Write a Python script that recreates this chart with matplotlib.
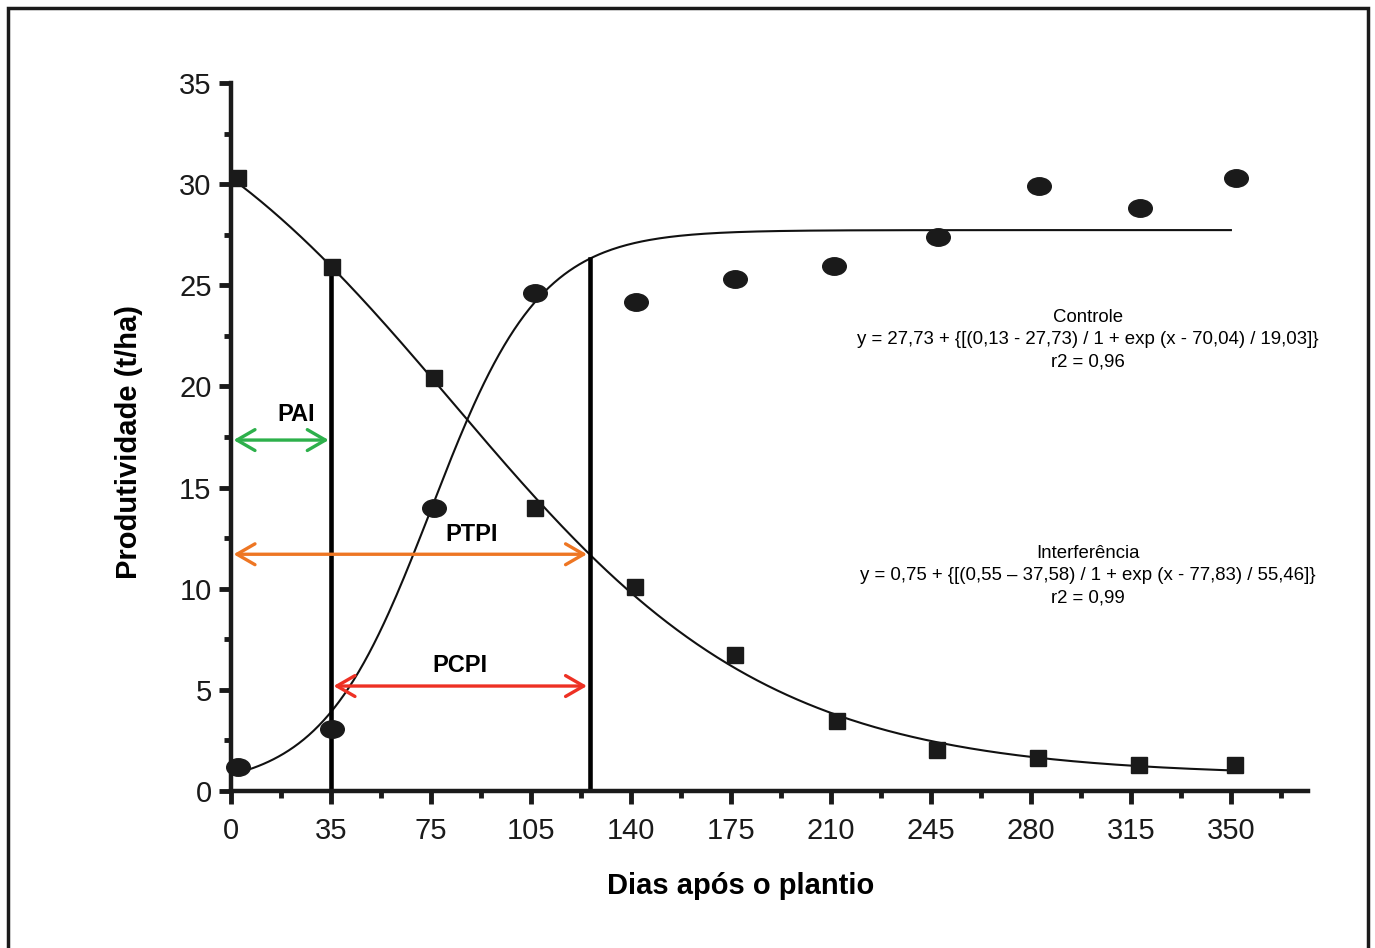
import numpy as np
import matplotlib
matplotlib.use("Agg")
import matplotlib.pyplot as plt
from matplotlib.path import Path
from matplotlib.transforms import Affine2D
from matplotlib.patches import Rectangle

plt.rcParams['font.family'] = ['Liberation Sans', 'DejaVu Sans']

# dados
dias_controle = [2.4, 35.3, 71, 106.4, 141.7, 176.4, 211, 247.4, 282.8, 318.2, 351.8]
prod_controle = [1.19, 3.06, 14.0, 24.6, 24.2, 25.3, 25.95, 27.4, 29.9, 28.8, 30.3]

dias_interf = [2.4, 35.3, 71, 106.4, 141.4, 176.4, 212, 247, 282.5, 317.8, 351.4]
prod_interf = [30.3, 25.9, 20.4, 14.0, 10.1, 6.7, 3.46, 2.03, 1.63, 1.29, 1.29]

# parâmetros dos modelos ajustados (a, b, x0, dx)
par_controle = [27.73, 0.13, 70.04, 19.03]
par_interf = [0.75, 37.58, 77.83, 55.46]

xticks = [0, 35, 70, 105, 140, 175, 210, 245, 280, 315, 350]
xticklabels = ["0", "35", "75", "105", "140", "175", "210", "245", "280", "315", "350"]
yticks = [0, 5, 10, 15, 20, 25, 30, 35]

# limites dos períodos
pai_fim = 35
ptpi_fim = 125.5


def logistica(x, p):
    a, b, x0, dx = p
    return a + (b - a) / (1 + np.exp((x - x0) / dx))


fig = plt.figure(figsize=(13.75, 9.48), dpi=100)
ax = fig.add_axes([0.168, 0.1656, 0.7833, 0.7468])

# moldura
fig.patches.append(Rectangle((8 / 1375, -0.05), 1360 / 1375, 1.05 - 8 / 948,
                             transform=fig.transFigure, fill=False,
                             edgecolor='#1a1a1a', linewidth=2.5))

xs = np.linspace(0, 350, 400)
ax.plot(xs, logistica(xs, par_controle), color='#111111', lw=1.5, clip_on=False)
ax.plot(xs, logistica(xs, par_interf), color='#111111', lw=1.5, clip_on=False)

ellipse = Path.unit_circle().transformed(Affine2D().scale(1.35, 1.0))
ax.plot(dias_controle, prod_controle, linestyle='none', marker=ellipse,
        markersize=17, color='#1a1a1a', clip_on=False, zorder=5)
ax.plot(dias_interf, prod_interf, linestyle='none', marker='s',
        markersize=11, color='#1a1a1a', clip_on=False, zorder=5)

# linhas verticais
ax.plot([pai_fim, pai_fim], [0, logistica(pai_fim, par_interf)], color='black', lw=3.3)
ax.plot([ptpi_fim, ptpi_fim], [0, logistica(ptpi_fim, par_controle)], color='black', lw=3.3)

# setas dos períodos
def seta(x1, x2, y, cor, texto, xt, yt):
    ax.annotate('', xy=(x1, y), xytext=(x2, y),
                arrowprops=dict(arrowstyle='<->,head_length=1.3,head_width=0.75',
                                color=cor, lw=2.4, shrinkA=0, shrinkB=0,
                                capstyle='round', joinstyle='round'))
    ax.text(xt, yt, texto, fontsize=17, fontweight='bold', ha='center', va='center')

y_ptpi = logistica(ptpi_fim, par_interf)
seta(0.9, pai_fim - 0.8, 17.35, '#2db04b', 'PAI', 22.7, 18.6)
seta(0.9, ptpi_fim - 0.9, y_ptpi, '#ee7623', 'PTPI', 84.4, 12.7)
seta(pai_fim + 0.9, ptpi_fim - 0.9, 5.19, '#ee3124', 'PCPI', 80, 6.2)

# equações
ax.text(300, 22.3, "Controle\ny = 27,73 + {[(0,13 - 27,73) / 1 + exp (x - 70,04) / 19,03]}\nr2 = 0,96",
        ha='center', va='center', fontsize=13.4, linespacing=1.4)
ax.text(300, 10.63, "Interferência\ny = 0,75 + {[(0,55 \u2013 37,58) / 1 + exp (x - 77,83) / 55,46]}\nr2 = 0,99",
        ha='center', va='center', fontsize=13.4, linespacing=1.4)

ax.set_xlim(0, 377)
ax.set_ylim(0, 35)
ax.set_xticks(xticks)
ax.set_xticklabels(xticklabels)
ax.set_xticks(np.arange(17.5, 377, 35), minor=True)
ax.set_yticks(yticks)
ax.set_yticks(np.arange(2.5, 35, 5), minor=True)
ax.tick_params(axis='x', which='major', pad=10)
ax.tick_params(axis='y', which='major', pad=5)
ax.tick_params(axis='both', which='major', direction='out', length=9, width=3.5,
               labelsize=21, color='#1a1a1a', labelcolor='#1a1a1a')
ax.tick_params(axis='both', which='minor', direction='out', length=5, width=3.5,
               color='#1a1a1a')

for s in ['top', 'right']:
    ax.spines[s].set_visible(False)
for s in ['left', 'bottom']:
    ax.spines[s].set_linewidth(3.2)
    ax.spines[s].set_color('#1a1a1a')

ax.set_xlabel("Dias após o plantio", fontsize=21, fontweight='bold')
ax.set_ylabel("Produtividade (t/ha)", fontsize=21, fontweight='bold')
ax.xaxis.set_label_coords(0.4735, -0.115)
ax.yaxis.set_label_coords(-0.082, 0.493)

fig.savefig("out.png", dpi=100)
